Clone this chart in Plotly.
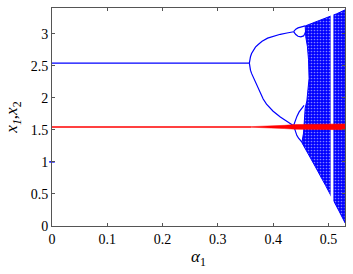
import plotly.graph_objects as go

BLUE = "#0000ff"
RED = "#ff0000"
FONT = '"Liberation Serif", "Times New Roman", serif'

# period-1 branch
p1_a = [0.0, 0.357]
p1_v = [2.54, 2.54]

# period-2 branches
p2u_a = [0.357, 0.3575, 0.359, 0.361, 0.364, 0.368, 0.373, 0.380, 0.390, 0.400, 0.413, 0.425, 0.437]
p2u_v = [2.54, 2.59, 2.64, 2.69, 2.74, 2.79, 2.83, 2.88, 2.93, 2.96, 2.99, 3.01, 3.03]
p2l_a = [0.357, 0.3575, 0.359, 0.361, 0.364, 0.370, 0.376, 0.382, 0.388, 0.400, 0.413, 0.425, 0.437]
p2l_v = [2.54, 2.49, 2.43, 2.38, 2.32, 2.20, 2.08, 1.98, 1.90, 1.79, 1.70, 1.63, 1.565]

# period-4 bubble (upper)
b1u_a = [0.437, 0.439, 0.441, 0.445, 0.450, 0.455, 0.458]
b1u_v = [3.03, 3.055, 3.07, 3.09, 3.10, 3.11, 3.12]
b1l_a = [0.437, 0.439, 0.441, 0.445, 0.450, 0.455, 0.457, 0.459]
b1l_v = [3.03, 3.00, 2.985, 2.96, 2.95, 2.965, 2.99, 3.04]

# period-4 bubble (lower)
b2u_a = [0.437, 0.439, 0.441, 0.443, 0.447, 0.452, 0.456]
b2u_v = [1.565, 1.62, 1.67, 1.71, 1.78, 1.84, 1.88]
b2l_a = [0.437, 0.439, 0.441, 0.443, 0.446, 0.449, 0.452]
b2l_v = [1.565, 1.50, 1.45, 1.41, 1.37, 1.34, 1.31]

# chaotic band envelope
ch_top_a = [0.458, 0.480, 0.500, 0.515, 0.530]
ch_top_v = [3.12, 3.19, 3.26, 3.31, 3.37]
ch_bot_a = [0.530, 0.520, 0.509, 0.495, 0.476, 0.462, 0.452]
ch_bot_v = [0.05, 0.22, 0.41, 0.63, 0.93, 1.15, 1.30]
ch_left_a = [0.452, 0.455, 0.456, 0.458, 0.461, 0.463, 0.465, 0.464, 0.462, 0.459, 0.458]
ch_left_v = [1.30, 1.45, 1.60, 1.84, 1.95, 2.10, 2.30, 2.60, 2.80, 2.95, 3.12]

# periodic window (white stripe)
gap_a = [0.504, 0.509]
gap_v = [0.35, 3.40]

# x2 (red) band
red_line_a = [0.0, 0.36]
red_line_v = [1.545, 1.545]
red_a = [0.36, 0.380, 0.400, 0.420, 0.440, 0.480, 0.530]
red_hi = [1.549, 1.553, 1.560, 1.570, 1.582, 1.588, 1.592]
red_lo = [1.541, 1.537, 1.530, 1.520, 1.510, 1.505, 1.502]

# transient point
tr_a = [0.0]
tr_v = [1.0]

fig = go.Figure()

poly_a = ch_top_a + ch_bot_a + ch_left_a
poly_v = ch_top_v + ch_bot_v + ch_left_v
fig.add_trace(go.Scatter(
    x=poly_a, y=poly_v, mode="lines", fill="toself",
    line=dict(color=BLUE, width=1),
    fillcolor=BLUE,
    fillpattern=dict(shape=".", bgcolor=BLUE, fgcolor="white", size=3, solidity=0.25),
    hoverinfo="skip", showlegend=False))

fig.add_trace(go.Scatter(
    x=[gap_a[0], gap_a[1], gap_a[1], gap_a[0]],
    y=[gap_v[0], gap_v[0], gap_v[1], gap_v[1]],
    mode="lines", fill="toself", fillcolor="white",
    line=dict(width=0), hoverinfo="skip", showlegend=False))

for xa, ya in [(p1_a, p1_v), (p2u_a, p2u_v), (p2l_a, p2l_v),
               (b1u_a, b1u_v), (b1l_a, b1l_v), (b2u_a, b2u_v), (b2l_a, b2l_v)]:
    fig.add_trace(go.Scatter(x=xa, y=ya, mode="lines",
                             line=dict(color=BLUE, width=1.2),
                             hoverinfo="skip", showlegend=False))

fig.add_trace(go.Scatter(x=red_line_a, y=red_line_v, mode="lines", line=dict(color=RED, width=1.6),
                         hoverinfo="skip", showlegend=False))
fig.add_trace(go.Scatter(x=red_a, y=red_lo, mode="lines", line=dict(color=RED, width=0.5),
                         hoverinfo="skip", showlegend=False))
fig.add_trace(go.Scatter(x=red_a, y=red_hi, mode="lines", line=dict(color=RED, width=0.5),
                         fill="tonexty", fillcolor=RED,
                         hoverinfo="skip", showlegend=False))

fig.add_trace(go.Scatter(x=tr_a, y=tr_v, mode="markers", cliponaxis=False,
                         marker=dict(symbol="line-ew", size=4, line=dict(color=BLUE, width=1.5)),
                         hoverinfo="skip", showlegend=False))

axis_common = dict(
    showgrid=False, zeroline=False, showline=True, mirror="ticks",
    linecolor="#555555", linewidth=1, ticks="inside", ticklen=3,
    tickcolor="#555555", automargin=False,
    tickfont=dict(family=FONT, size=14, color="black"),
)

fig.update_layout(
    width=353, height=274,
    margin=dict(l=52, r=8, t=8, b=48),
    paper_bgcolor="white", plot_bgcolor="white",
    font=dict(family=FONT),
    xaxis=dict(range=[0, 0.53], tickvals=[0, 0.1, 0.2, 0.3, 0.4, 0.5],
               ticktext=["0", "0.1", "0.2", "0.3", "0.4", "0.5"],
               title=dict(text="<i>α</i><sub>1</sub>", standoff=4,
                          font=dict(family=FONT, size=17, color="black")),
               **axis_common),
    yaxis=dict(range=[0, 3.4], tickvals=[0, 0.5, 1, 1.5, 2, 2.5, 3],
               ticktext=["0", "0.5", "1", "1.5", "2", "2.5", "3"],
               title=dict(text="<i>x</i><sub><i>1</i></sub>,<i>x</i><sub>2</sub>", standoff=8,
                          font=dict(family=FONT, size=17, color="black")),
               **axis_common),
)

fig.write_html("out.html", config={"displayModeBar": False},
               post_script="document.body.style.margin='0';document.body.style.padding='0';document.body.style.overflow='hidden';")
